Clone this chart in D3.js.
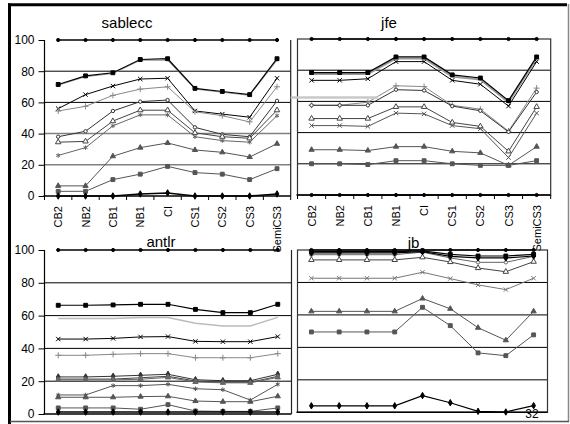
<!DOCTYPE html>
<html>
<head>
<meta charset="utf-8">
<script src="https://cdn.jsdelivr.net/npm/d3@7"></script>
<style>
  body { margin: 0; background: #fff; }
  svg { display: block; font-family: "Liberation Sans", Arial, sans-serif; }
</style>
</head>
<body>
<div id="chart"></div>
<script>
// categories and ticks
const categories = ["CB2", "NB2", "CB1", "NB1", "CI", "CS1", "CS2", "CS3", "SemiCS3"];
const yTicks = [0, 20, 40, 60, 80, 100];

// sablecc
const sab100 = [100, 100, 100, 100, 100, 100, 100, 100, 100];
const sabSqGray = [71, 76.5, 78.5, 87, 87, 68.5, 66.5, 64.5, 87];
const sabSq = [71.5, 77, 79, 87.5, 88, 69, 67, 65, 88];
const sabX = [56, 65, 70.5, 75, 75.5, 54.5, 52.5, 50.5, 75.5];
const sabPlus = [54.5, 57.5, 64.5, 68.5, 70, 54, 51.5, 47.5, 70];
const sabDia = [38, 41.5, 54.5, 60.5, 61.5, 44, 39.5, 38, 61];
const sabTriOpen = [34.5, 35, 48, 55, 55, 40.5, 38, 37, 55];
const sabStar = [26, 31, 45, 52, 52, 38, 35.5, 34.5, 51.5];
const sabTri = [6.5, 6.5, 25.5, 31, 34, 29.5, 28, 25, 33.5];
const sabSq2 = [3, 3, 10.5, 14, 19, 15, 14, 10.5, 17.5];
const sabBot = [0, 0, 0, 1.3, 2, 0, 0, 0, 1.3];

// jfe
const jfe100 = [100, 100, 100, 100, 100, 100, 100, 100, 100];
const jfeZero = [0, 0, 0, 0, 0, 0, 0, 0, 0];
const jfeSq = [78.5, 78.5, 78.5, 88.5, 88.5, 77, 75, 60.5, 88.5];
const jfeGray = [77.5, 77.5, 77.5, 87.5, 87.5, 76, 74, 59.5, 87.5];
const jfeX = [73.5, 73.5, 74.5, 85.5, 85.5, 73.5, 71, 57, 85.5];
const jfePlus = [57.5, 57.5, 59.5, 70, 69.5, 57.5, 55, 41, 68.5];
const jfeDia = [57.5, 57.5, 57.5, 67.5, 67, 57, 54, 40.5, 66];
const jfeTriOpen = [49, 49, 49, 56.5, 56.5, 46.5, 44, 28, 56.5];
const jfeX2 = [44.5, 44.5, 44, 52.5, 52, 44.5, 42.5, 24, 52.5];
const jfeTri = [29, 29, 28.5, 31, 31, 28, 27, 19, 31];
const jfeSq2 = [20, 20, 19.5, 22, 22, 20, 19, 19, 22];

// antlr
const ant100 = [100, 100, 100, 100, 100, 100, 100, 100, 100];
const antSq = [66.3, 66.3, 66.5, 66.9, 66.9, 63.8, 61.8, 61.8, 66.9];
const antLight = [58.3, 58.3, 58.3, 58.9, 58.9, 55.3, 53.7, 53.7, 58.9];
const antX = [45.7, 45.7, 46.1, 47, 47.2, 44.3, 44.1, 44.1, 47.2];
const antPlus = [35.8, 35.8, 36.4, 36.8, 36.8, 34.3, 34.3, 34.3, 36.8];
const antDia = [22.6, 22.6, 23, 23.6, 24.2, 20.9, 20.3, 20.3, 24.2];
const antDia2 = [21.3, 21.3, 21.3, 22.1, 23, 20.1, 19.3, 19.3, 23];
const antTri2 = [20.8, 20.8, 20.8, 21.2, 22.3, 19.5, 19, 19, 22.3];
const antStar = [11.6, 11.6, 17.3, 17.3, 18.1, 15.4, 14.8, 8.5, 18.1];
const antTri = [10.2, 10.2, 10.2, 10.6, 10.8, 7.9, 7.5, 7.5, 10.8];
const antSq2 = [3.7, 3.7, 3.7, 2.9, 5.7, 1.8, 1.6, 1.6, 3.7];
const antBot = [1.2, 1.2, 1.2, 1.2, 1.2, 1.2, 1.2, 1.2, 1.2];

// jb
const jb100 = [100, 100, 100, 100, 100, 100, 100, 100, 100];
const jbSq = [99, 99, 99, 99, 99.4, 97.3, 96.3, 96.3, 97.3];
const jbB2 = [98.2, 98.2, 98.2, 98.2, 99, 96.1, 95.1, 95.1, 96.3];
const jbDia = [97.1, 97.1, 97.1, 97.1, 98.7, 95.1, 92.4, 92.4, 96.1];
const jbTriOpen = [93.9, 93.9, 93.9, 93.9, 95.5, 92.6, 88.9, 86.6, 92.8];
const jbStar = [82.6, 82.6, 82.6, 82.6, 86.3, 82.4, 78.5, 75.6, 82.6];
const jbTri = [62.2, 62.2, 62.2, 62.2, 70.1, 63.8, 52.1, 44.4, 62.2];
const jbSq2 = [49.5, 49.5, 49.5, 49.5, 64.7, 53.4, 36.6, 34.9, 47.7];
const jbBot = [4, 4, 4, 4, 10.3, 5.9, 0.6, 0.2, 4.1];

const width = 570, height = 424;

const svg = d3.select("#chart").append("svg")
    .attr("width", width).attr("height", height);

const symTimes = d3.symbolTimes || d3.symbolX;
const symPlus = d3.symbolPlus || d3.symbolCross;
const symAst = d3.symbolAsterisk || symTimes;

// marker styles
const mk = {
  dot:     { type: d3.symbolCircle, size: 8, fill: true },
  square:  { type: d3.symbolSquare, size: 15, fill: true },
  times:   { type: symTimes, size: 14, fill: false },
  plus:    { type: symPlus, size: 14, fill: false },
  diamond: { type: d3.symbolDiamond, size: 12, fill: true },
  dOpen:   { type: d3.symbolCircle, size: 9, fill: false },
  tri:     { type: d3.symbolTriangle, size: 12, fill: true },
  triOpen: { type: d3.symbolTriangle, size: 13, fill: false },
  star:    { type: symAst, size: 14, fill: false },
  none: null
};

const panels = [
  { name: "sablecc", x0: 44.5, x1: 290.7, yTop: 40, yBot: 196, titleX: 127, titleY: 28,
    yLabels: true, xLabels: true, xTicks: true,
    grid: [[20, "#808080", 1.5], [40, "#808080", 1.5], [60, "#000", 1], [80, "#000", 1]],
    series: [
      [sabSqGray, "#999", mk.none, 1],
      [sabSq, "#000", mk.square, 1.2],
      [sabX, "#000", mk.times, 1],
      [sabPlus, "#888", mk.plus, 1],
      [sabDia, "#333", mk.dOpen, 1],
      [sabTriOpen, "#444", mk.triOpen, 1],
      [sabStar, "#666", mk.star, 1],
      [sabTri, "#555", mk.tri, 1],
      [sabSq2, "#555", mk.square, 1],
      [sabBot, "#000", mk.diamond, 1.5],
      [sab100, "#000", mk.dot, 1.5]
    ] },
  { name: "jfe", x0: 297.5, x1: 550.7, yTop: 39, yBot: 195, titleX: 389, titleY: 28,
    yLabels: false, xLabels: true, xTicks: true, box: true,
    grid: [[20, "#000", 1], [40, "#000", 1], [60, "#000", 1], [80, "#000", 1]],
    series: [
      [jfeGray, "#999", mk.none, 2],
      [jfeSq, "#000", mk.square, 1.2],
      [jfeX, "#000", mk.times, 1],
      [jfePlus, "#888", mk.plus, 1],
      [jfeDia, "#333", mk.dOpen, 1],
      [jfeTriOpen, "#444", mk.triOpen, 1],
      [jfeX2, "#555", mk.times, 1],
      [jfeTri, "#555", mk.tri, 1],
      [jfeSq2, "#555", mk.square, 1],
      [jfeZero, "#000", mk.dot, 1.5],
      [jfe100, "#000", mk.dot, 1.5]
    ] },
  { name: "antlr", x0: 44.5, x1: 291.5, yTop: 250, yBot: 414, titleX: 161, titleY: 247,
    yLabels: true, xLabels: false, xTicks: false, rightBorder: true,
    grid: [[20, "#000", 1], [40, "#000", 1], [60, "#000", 1], [80, "#000", 1]],
    series: [
      [antSq, "#000", mk.square, 1.2],
      [antLight, "#bbb", mk.none, 1.5],
      [antX, "#000", mk.times, 1],
      [antPlus, "#888", mk.plus, 1],
      [antDia, "#333", mk.diamond, 1],
      [antDia2, "#444", mk.dOpen, 1],
      [antTri2, "#666", mk.tri, 1],
      [antStar, "#555", mk.star, 1],
      [antTri, "#555", mk.tri, 1],
      [antSq2, "#555", mk.square, 1],
      [antBot, "#000", mk.diamond, 1.5],
      [ant100, "#000", mk.dot, 1.5]
    ] },
  { name: "jb", x0: 297.5, x1: 547.5, yTop: 250, yBot: 412.3, titleX: 413.5, titleY: 248,
    yLabels: false, xLabels: false, xTicks: false, box: true,
    grid: [[20, "#000", 1], [40, "#000", 1], [60, "#000", 1], [80, "#000", 1]],
    series: [
      [jbSq2, "#555", mk.square, 1],
      [jbTri, "#555", mk.tri, 1],
      [jbStar, "#777", mk.times, 1],
      [jbTriOpen, "#444", mk.triOpen, 1],
      [jbDia, "#666", mk.dOpen, 1],
      [jbB2, "#000", mk.diamond, 1.2],
      [jbSq, "#000", mk.square, 1.2],
      [jbBot, "#000", mk.diamond, 1.2],
      [jb100, "#000", mk.dot, 1.5]
    ] }
];

panels.forEach(function(p) {
  p.x = d3.scalePoint().domain(categories).range([p.x0, p.x1]).padding(0.5);
  p.y = d3.scaleLinear().domain([0, 100]).range([p.yBot, p.yTop]);
});

// outer frame
svg.append("line").attr("x1", 9.5).attr("x2", 9.5).attr("y1", 3.5).attr("y2", 424)
    .attr("stroke", "#000").attr("stroke-width", 3);
svg.append("line").attr("x1", 8).attr("x2", 567).attr("y1", 4.8).attr("y2", 4.8)
    .attr("stroke", "#000").attr("stroke-width", 3);
svg.append("line").attr("x1", 568.5).attr("x2", 568.5).attr("y1", 4).attr("y2", 422)
    .attr("stroke", "#888").attr("stroke-width", 1.5);
svg.append("line").attr("x1", 10).attr("x2", 569).attr("y1", 421.5).attr("y2", 421.5)
    .attr("stroke", "#555").attr("stroke-width", 1.5);

panels.forEach(function(p) {
  const g = svg.append("g");

  // grid lines
  p.grid.forEach(function(gl) {
    g.append("line")
      .attr("x1", p.x0).attr("x2", p.x1)
      .attr("y1", p.y(gl[0])).attr("y2", p.y(gl[0]))
      .attr("stroke", gl[1]).attr("stroke-width", gl[2]);
  });

  // frame of plot area
  if (p.box) {
    g.append("rect").attr("x", p.x0).attr("y", p.yTop)
      .attr("width", p.x1 - p.x0).attr("height", p.yBot - p.yTop)
      .attr("fill", "none").attr("stroke", "#333").attr("stroke-width", 1.2);
  } else {
    g.append("line").attr("x1", p.x0).attr("x2", p.x0).attr("y1", p.yTop).attr("y2", p.yBot)
      .attr("stroke", "#000").attr("stroke-width", 1.2);
    g.append("line").attr("x1", p.x1).attr("x2", p.x1).attr("y1", p.yTop).attr("y2", p.yBot)
      .attr("stroke", "#222").attr("stroke-width", 1.2);
  }
  g.append("line").attr("x1", p.x0 - 1).attr("x2", p.x1).attr("y1", p.yBot).attr("y2", p.yBot)
    .attr("stroke", "#000").attr("stroke-width", 1.5);

  // y axis
  if (p.yLabels) {
    const ay = g.append("g").attr("transform", `translate(${p.x0},0)`)
      .call(d3.axisLeft(p.y).tickValues(yTicks).tickSize(6).tickPadding(4));
    ay.select(".domain").remove();
    ay.selectAll("line").attr("stroke", "#000");
    ay.selectAll("text").attr("font-size", 12).attr("fill", "#000")
      .attr("font-family", "'Liberation Sans', Arial, sans-serif");
  }

  // x ticks at category boundaries
  if (p.xTicks) {
    const step = p.x.step();
    d3.range(categories.length + 1).forEach(function(i) {
      const xx = p.x(categories[0]) - step / 2 + i * step;
      g.append("line").attr("x1", xx).attr("x2", xx)
        .attr("y1", p.yBot).attr("y2", p.yBot + 4)
        .attr("stroke", "#000").attr("stroke-width", 1);
    });
  }

  // x labels rotated
  if (p.xLabels) {
    g.selectAll(".xl").data(categories).enter().append("text")
      .attr("transform", d => `translate(${p.x(d) + 4},${p.yBot + 10}) rotate(-90)`)
      .attr("text-anchor", "end")
      .attr("font-size", 11)
      .attr("fill", "#000")
      .text(d => d);
  }

  // series
  const line = d3.line().x((d, i) => p.x(categories[i])).y(d => p.y(d));
  p.series.forEach(function(s) {
    const vals = s[0], col = s[1], m = s[2], sw = s[3];
    g.append("path").datum(vals)
      .attr("d", line).attr("fill", "none")
      .attr("stroke", col).attr("stroke-width", sw);
    if (m) {
      g.selectAll(null).data(vals).enter().append("path")
        .attr("transform", (d, i) => `translate(${p.x(categories[i])},${p.y(d)})`)
        .attr("d", d3.symbol().type(m.type).size(m.size))
        .attr("fill", m.fill ? col : "#fff")
        .attr("stroke", col)
        .attr("stroke-width", 1);
    }
  });

  // title
  g.append("text").attr("x", p.titleX).attr("y", p.titleY)
    .attr("text-anchor", "middle").attr("font-size", 15).attr("fill", "#000")
    .text(p.name);
});

// stray light line crossing into the jfe panel
const jfeP = panels[1];
svg.append("line")
  .attr("x1", panels[0].x1).attr("x2", jfeP.x("CB1") + 10)
  .attr("y1", jfeP.y(62.5)).attr("y2", jfeP.y(62.5))
  .attr("stroke", "#c8c8c8").attr("stroke-width", 2.5);

// page number
svg.append("text").attr("x", 532).attr("y", 418).attr("text-anchor", "middle")
  .attr("font-size", 12).attr("fill", "#000").text("32");
</script>
</body>
</html>
